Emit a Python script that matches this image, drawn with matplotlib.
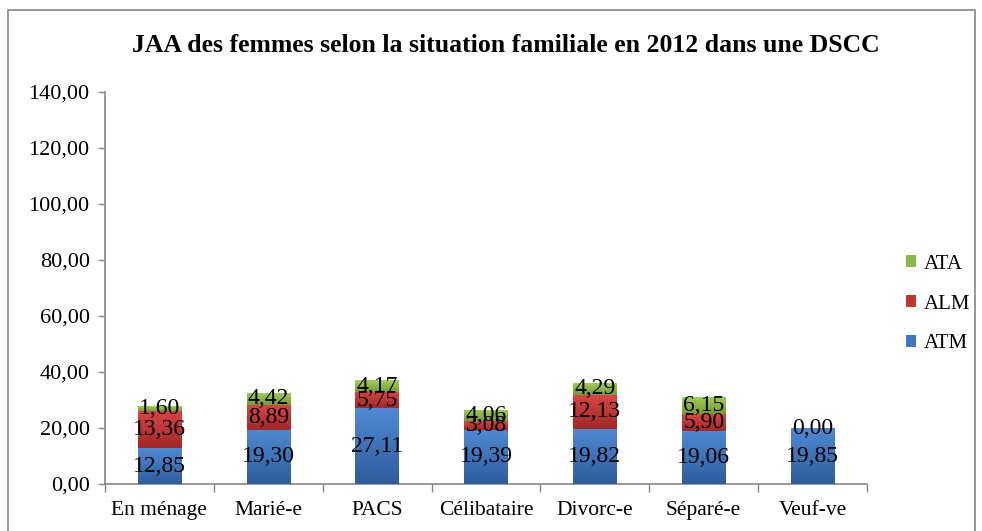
import numpy as np
import matplotlib
matplotlib.use("Agg")
import matplotlib.pyplot as plt
from matplotlib.patches import Rectangle
from matplotlib.colors import LinearSegmentedColormap

categories = ["En ménage", "Marié-e", "PACS", "Célibataire", "Divorc-e", "Séparé-e", "Veuf-ve"]
atm = [12.85, 19.30, 27.11, 19.39, 19.82, 19.06, 19.85]
alm = [13.36, 8.89, 5.75, 3.08, 12.13, 5.90, None]
ata = [1.60, 4.42, 4.17, 4.06, 4.29, 6.15, 0.00]
series_names = ["ATM", "ALM", "ATA"]
yticks = [0, 20, 40, 60, 80, 100, 120, 140]

plt.rcParams['font.family'] = ['Liberation Serif', 'DejaVu Serif']

fig = plt.figure(figsize=(9.82, 5.31), dpi=100)
ax = fig.add_axes([105/982, 1-484/531, (867-105)/982, (484-92)/531])

colors = {
    "ATM": ("#4F8AD2", "#2E5C9C", "#3F78C0"),
    "ALM": ("#D94543", "#9E2A29", "#C0392F"),
    "ATA": ("#A5CF57", "#759B37", "#8DB84A"),
}

x = np.arange(len(categories))
w = 0.4
grad = np.linspace(0, 1, 256).reshape(-1, 1)

bottoms = np.zeros(len(categories))
handles = []
for name, vals in zip(series_names, [atm, alm, ata]):
    top_c, bot_c, mid_c = colors[name]
    cmap = LinearSegmentedColormap.from_list(name, [bot_c, top_c])
    v = np.array([0.0 if val is None else val for val in vals])
    bars = ax.bar(x, v, w, bottom=bottoms, color=mid_c, label=name, zorder=2)
    handles.append(bars)
    for i, rect in enumerate(bars):
        if v[i] > 0:
            x0 = rect.get_x(); y0 = rect.get_y()
            im = ax.imshow(grad, cmap=cmap, origin='lower', aspect='auto',
                           extent=(x0, x0 + rect.get_width(), y0, y0 + rect.get_height()),
                           zorder=3)
            im.set_clip_path(rect)
        if vals[i] is not None:
            ax.text(x[i], bottoms[i] + v[i] / 2, f"{vals[i]:.2f}".replace('.', ','),
                    ha='center', va='center', fontsize=17, color='black', zorder=5)
    bottoms = bottoms + v

ax.set_xlim(-0.5, len(categories) - 0.5)
ax.set_ylim(0, 140)
ax.set_yticks(yticks)
ax.set_yticklabels([f"{t:.2f}".replace('.', ',') for t in yticks], fontsize=16)
ax.set_xticks(x)
ax.set_xticklabels(categories, fontsize=15.5)
ax.set_xticks(np.arange(len(categories) + 1) - 0.5, minor=True)
ax.tick_params(axis='x', which='major', length=0, pad=12)
ax.tick_params(axis='x', which='minor', length=6, color='#868686', width=1)
ax.tick_params(axis='y', length=5, color='#868686', width=1, pad=6)
for s in ['top', 'right']:
    ax.spines[s].set_visible(False)
for s in ['left', 'bottom']:
    ax.spines[s].set_color('#868686')
    ax.spines[s].set_linewidth(1.2)

fig.text(506/982, 1-46/531, "JAA des femmes selon la situation familiale en 2012 dans une DSCC",
         ha='center', va='center', fontsize=18.5, fontweight='bold')

leg = fig.legend(handles=handles[::-1], labels=series_names[::-1], loc='upper left',
                 bbox_to_anchor=(887/982, 1-236/531), frameon=False, fontsize=15,
                 handlelength=0.5, handleheight=0.5, handletextpad=0.35, labelspacing=1.0)

fig.patches.append(Rectangle((8/982, -0.05), (975-8)/982, 1.05 - 10/531,
                             transform=fig.transFigure, fill=False,
                             edgecolor='#868686', linewidth=1.2))

fig.savefig("out.png", dpi=100)
